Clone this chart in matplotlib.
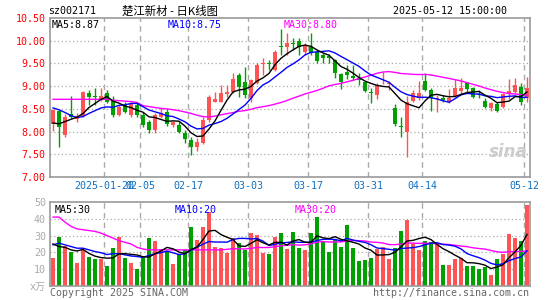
import matplotlib
matplotlib.use("Agg")
import matplotlib.pyplot as plt
import numpy as np
import pandas as pd

# ---------------- data ----------------
holidays = ["2025-01-28", "2025-01-29", "2025-01-30", "2025-01-31", "2025-02-03",
            "2025-02-04", "2025-04-04", "2025-05-01", "2025-05-02", "2025-05-05"]
days = pd.bdate_range("2025-01-07", "2025-05-12")
days = days[~days.isin(pd.to_datetime(holidays))]

open_ = [8.17, 8.45, 7.93, 8.39, 8.27, 8.34, 8.86, 8.78, 8.69, 8.86,
         8.69, 8.37, 8.58, 8.37, 8.58, 8.37, 8.20, 8.04, 8.33, 8.44,
         8.14, 8.15, 7.96, 7.82, 7.67, 7.75, 8.25, 8.66, 8.66, 8.83,
         8.88, 9.25, 9.10, 8.75, 9.08, 9.48, 9.49, 9.36, 9.88, 9.87,
         9.95, 9.99, 9.76, 9.87, 9.76, 9.69, 9.67, 9.58, 9.26, 9.32,
         9.22, 9.18, 9.10, 8.87, 8.81, 9.06, 9.05, 8.51, 8.12, 7.98,
         8.68, 8.73, 9.11, 8.92, 8.72, 8.74, 8.66, 8.78, 8.90, 9.08,
         8.95, 8.82, 8.68, 8.51, 8.61, 8.53, 8.84, 8.88, 8.98, 8.73]
high = [8.50, 8.47, 8.39, 8.78, 8.40, 8.90, 8.92, 8.95, 8.95, 8.92,
        8.78, 8.58, 8.66, 8.66, 8.62, 8.44, 8.26, 8.40, 8.51, 8.49,
        8.24, 8.20, 8.03, 7.89, 7.85, 8.33, 8.81, 8.88, 9.02, 9.02,
        9.30, 9.29, 9.42, 9.16, 9.50, 9.61, 9.58, 9.79, 10.25, 10.16,
        10.05, 10.05, 9.94, 10.16, 9.80, 9.73, 9.70, 9.60, 9.30, 9.47,
        9.47, 9.30, 9.12, 8.95, 9.06, 9.31, 9.12, 8.60, 8.33, 8.78,
        8.92, 9.11, 9.28, 8.95, 8.80, 8.80, 8.94, 9.15, 9.18, 9.10,
        8.99, 8.92, 8.74, 8.66, 8.64, 8.86, 9.16, 9.18, 9.07, 9.21]
low = [8.01, 7.65, 7.88, 8.30, 8.20, 8.32, 8.59, 8.59, 8.67, 8.62,
       8.33, 8.35, 8.40, 8.33, 8.32, 8.10, 7.97, 7.97, 8.29, 8.13,
       8.10, 7.96, 7.75, 7.49, 7.57, 7.73, 8.22, 8.64, 8.64, 8.77,
       8.86, 8.77, 8.74, 8.64, 9.05, 9.25, 9.36, 9.34, 9.69, 9.69,
       9.80, 9.69, 9.69, 9.69, 9.52, 9.52, 9.50, 9.17, 8.93, 9.15,
       9.14, 9.03, 8.88, 8.63, 8.72, 9.04, 8.92, 8.13, 7.89, 7.44,
       8.66, 8.70, 8.90, 8.46, 8.43, 8.65, 8.63, 8.76, 8.81, 8.88,
       8.73, 8.74, 8.51, 8.46, 8.43, 8.51, 8.72, 8.85, 8.59, 8.64]
close = [8.48, 8.10, 8.33, 8.33, 8.34, 8.88, 8.77, 8.77, 8.78, 8.66,
         8.37, 8.55, 8.44, 8.62, 8.37, 8.15, 8.04, 8.37, 8.40, 8.17,
         8.20, 8.00, 7.83, 7.67, 7.76, 8.25, 8.77, 8.72, 8.84, 8.88,
         9.15, 8.99, 8.81, 9.14, 9.47, 9.50, 9.48, 9.76, 9.86, 9.96,
         9.93, 9.87, 9.90, 9.72, 9.56, 9.61, 9.61, 9.28, 9.10, 9.25,
         9.19, 9.13, 8.89, 8.84, 9.03, 9.08, 9.07, 8.17, 8.11, 8.64,
         8.85, 8.85, 8.92, 8.74, 8.74, 8.69, 8.74, 8.95, 8.97, 8.94,
         8.76, 8.80, 8.54, 8.62, 8.46, 8.83, 8.90, 9.03, 8.64, 8.95]
# volume in 10k shares
volume = [16.7, 29.4, 24.1, 20.2, 13.7, 21.6, 17.3, 16.1, 15.9, 12.0,
          22.4, 29.4, 16.7, 13.7, 10.2, 16.9, 28.6, 26.5, 22.2, 20.6,
          12.9, 18.8, 21.6, 34.9, 27.6, 35.3, 44.3, 23.5, 22.4, 19.6,
          28.6, 25.5, 21.6, 31.4, 30.6, 19.6, 18.8, 29.4, 31.8, 21.8,
          32.4, 22.7, 21.6, 31.4, 41.2, 26.5, 20.2, 27.5, 23.5, 36.5,
          22.5, 14.9, 15.7, 16.9, 22.0, 23.0, 15.9, 22.5, 33.0, 39.5,
          25.0, 21.2, 26.5, 26.0, 25.0, 12.4, 12.4, 15.9, 16.9, 11.8,
          12.0, 10.0, 11.3, 6.8, 16.3, 18.8, 31.0, 28.5, 26.5, 48.5]

# moving-average values before a full window exists
ma5_head = [8.19, 8.17, 8.22, 8.27]
ma10_head = [8.52, 8.48, 8.42, 8.35, 8.31, 8.33, 8.40, 8.46, 8.52]
ma30_head = [8.71, 8.71, 8.71, 8.71, 8.71, 8.71, 8.71, 8.71, 8.71, 8.71,
             8.69, 8.68, 8.67, 8.66, 8.64, 8.57, 8.55, 8.53, 8.51, 8.50,
             8.48, 8.46, 8.43, 8.40, 8.36, 8.33, 8.32, 8.34, 8.37]
vma5_head = [25.0, 23.5, 23.0, 21.5]
vma10_head = [24.5, 25.5, 24.5, 23.5, 22.5, 22.5, 21.5, 20.5, 19.8]
vma30_head = [41.0, 41.0, 38.0, 35.5, 34.0, 33.5, 33.0, 32.5, 31.5, 30.0,
              28.5, 27.0, 26.0, 25.0, 23.0, 22.0, 21.5, 21.5, 21.5, 21.5,
              21.5, 21.5, 21.5, 21.5, 21.5, 21.5, 21.5, 21.5, 21.5]

label_dates = ["2025-01-20", "2025-02-05", "2025-02-17", "2025-03-03",
               "2025-03-17", "2025-03-31", "2025-04-14", "2025-05-12"]
price_ticks = [7.00, 7.50, 8.00, 8.50, 9.00, 9.50, 10.00, 10.50]
vol_ticks = [0, 10, 20, 30, 40, 50]

stock_code = "sz002171"
title = "楚江新材 - 日K线图"
timestamp = "2025-05-12 15:00:00"

# ---------------- computation ----------------
o = np.array(open_); h = np.array(high); l = np.array(low); c = np.array(close)
v = np.array(volume)
x = np.arange(len(c))

def ma(arr, n, head):
    m = pd.Series(arr).rolling(n).mean().values
    m[:n - 1] = head
    return m

ma5, ma10, ma30 = ma(c, 5, ma5_head), ma(c, 10, ma10_head), ma(c, 30, ma30_head)
vma5, vma10, vma30 = ma(v, 5, vma5_head), ma(v, 10, vma10_head), ma(v, 30, vma30_head)

RED = "#ff5454"
GREEN = "#00a000"
up = c >= o
cols = np.where(up, RED, GREEN)

tick_idx = np.array([days.get_loc(pd.Timestamp(d)) for d in label_dates])
tick_lab = [pd.Timestamp(label_dates[0]).strftime("%Y-%m-%d")] + \
           [pd.Timestamp(d).strftime("%m-%d") for d in label_dates[1:]]

MONO = ["DejaVu Sans Mono", "Noto Sans CJK SC"]
plt.rcParams["font.family"] = MONO

W, H = 545, 300
fig = plt.figure(figsize=(W / 100, H / 100), dpi=100)
ax = fig.add_axes([50 / W, 1 - 177 / H, 480 / W, 159 / H])
axv = fig.add_axes([50 / W, 1 - 286 / H, 480 / W, 84 / H])

for a in (ax, axv):
    a.set_xlim(-0.5, len(c) - 0.5)
    for s in a.spines.values():
        s.set_color("#999999")
        s.set_linewidth(1.2)
    for t in tick_idx:
        a.axvline(t - 0.5, color="#aaaaaa", lw=1.0, ls=(0, (4, 3)), zorder=0)

# ---- price panel ----
ax.set_ylim(price_ticks[0], price_ticks[-1])
for yv in price_ticks[1:-1]:
    ax.axhline(yv, color="#aaaaaa", lw=0.9, ls=(0, (1, 2)), zorder=0)
ax.vlines(x, l, h, colors=cols, lw=1.0, zorder=2)
body_h = np.maximum(np.abs(c - o), 0.02)
ax.bar(x, body_h, bottom=np.minimum(o, c), width=0.72, color=cols, zorder=3, linewidth=0)
ax.plot(x, ma30, color="#ff00ff", lw=1.0, zorder=4)
ax.plot(x, ma10, color="#0000ff", lw=1.0, zorder=4)
ax.plot(x, ma5, color="#000000", lw=1.0, zorder=4)
ax.set_yticks(price_ticks)
ax.set_yticklabels([f"{p:.2f}" for p in price_ticks], color="#ff0000", fontsize=7.2)
ax.tick_params(axis="y", length=0, pad=3)
ax.set_xticks(tick_idx - 0.5)
ax.set_xticklabels(tick_lab, color="#1070c0", fontsize=7.2)
ax.tick_params(axis="x", length=0, pad=3)

ax.text(0.004, 0.985, f"MA5:{ma5[-1]:.2f}", transform=ax.transAxes, color="black",
        fontsize=7.2, va="top", ha="left")
ax.text(0.245, 0.985, f"MA10:{ma10[-1]:.2f}", transform=ax.transAxes, color="#0000ff",
        fontsize=7.2, va="top", ha="left")
ax.text(0.486, 0.985, f"MA30:{ma30[-1]:.2f}", transform=ax.transAxes, color="#ff00ff",
        fontsize=7.2, va="top", ha="left")
ax.text(0.955, 0.16, "sina", transform=ax.transAxes, color="#cccccc", fontsize=12,
        fontweight="bold", style="italic", ha="center", va="center",
        family="DejaVu Sans", zorder=1)

# ---- volume panel ----
axv.set_ylim(vol_ticks[0], vol_ticks[-1])
for yv in vol_ticks[1:-1]:
    axv.axhline(yv, color="#aaaaaa", lw=0.9, ls=(0, (1, 2)), zorder=0)
axv.bar(x, v, width=0.8, color=cols, linewidth=0, zorder=2)
axv.plot(x, vma30, color="#ff00ff", lw=1.0, zorder=4)
axv.plot(x, vma10, color="#0000ff", lw=1.0, zorder=4)
axv.plot(x, vma5, color="#000000", lw=1.0, zorder=4)
axv.set_yticks(vol_ticks)
axv.set_yticklabels(["x万"] + [str(t) for t in vol_ticks[1:]], color="#aaaaaa", fontsize=7.2)
axv.tick_params(axis="y", length=0, pad=3)
axv.set_xticks([])
axv.text(0.01, 0.97, f"MA5:{int(vma5[-1])}", transform=axv.transAxes, color="black",
         fontsize=7.2, va="top", ha="left")
axv.text(0.26, 0.97, f"MA10:{int(vma10[-1])}", transform=axv.transAxes, color="#0000ff",
         fontsize=7.2, va="top", ha="left")
axv.text(0.51, 0.97, f"MA30:{int(vma30[-1])}", transform=axv.transAxes, color="#ff00ff",
         fontsize=7.2, va="top", ha="left")

# ---- header / footer ----
fig.text(48 / W, 1 - 11 / H, stock_code, fontsize=7.2, color="black", va="center", ha="left")
fig.text(170 / W, 1 - 11 / H, title, fontsize=8.2, color="black", va="center", ha="center",
         family=["Noto Sans CJK SC", "DejaVu Sans"])
fig.text(507 / W, 1 - 11 / H, timestamp, fontsize=7.2, color="black", va="center", ha="right")
fig.text(50 / W, 1 - 293 / H, "Copyright 2025 SINA.COM", fontsize=7.2, color="#666666",
         va="center", ha="left")
fig.text(529 / W, 1 - 293 / H, "http://finance.sina.com.cn", fontsize=7.2, color="#666666",
         va="center", ha="right")

fig.savefig("out.png", dpi=100, facecolor="white")
